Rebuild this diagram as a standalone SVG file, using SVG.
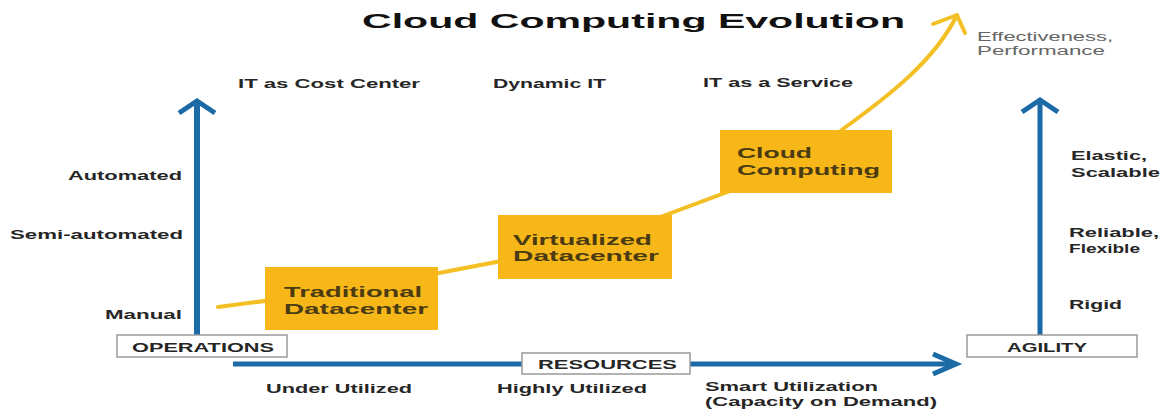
<svg xmlns="http://www.w3.org/2000/svg" width="1161" height="409" viewBox="0 0 1161 409">
<style>
text{font-family:"Liberation Sans",Arial,sans-serif;font-weight:bold;fill:#262626}
.lbl{font-size:13px}
.title{font-size:21px;fill:#111}
.soft{font-weight:normal;fill:#666;font-size:12px}
.box{fill:#fff;stroke:#9a9a9a;stroke-width:1.5}
.step{fill:#f7b718}
.step text{font-size:15px;fill:#4a3b12}
.axis{stroke:#1c6aa6;fill:none;stroke-linecap:butt}
.curve{stroke:#f2c025;fill:none;stroke-width:4;stroke-linecap:round;stroke-linejoin:round}
</style>
<rect width="1161" height="409" fill="#fff"/>
<text class="title" x="362" y="28" textLength="543" lengthAdjust="spacingAndGlyphs">Cloud Computing Evolution</text>

<g id="connectors">
  <path class="axis" stroke-width="6" d="M197,336 V102"/>
  <path class="axis" stroke-width="5" d="M179,113 L197,101 L215,113"/>
  <path class="axis" stroke-width="5" d="M1040,336 V102"/>
  <path class="axis" stroke-width="5" d="M1022,112 L1040,100 L1058,112"/>
  <path class="axis" stroke-width="5" d="M233,364 H954"/>
  <path class="axis" stroke-width="5" d="M933,354 L956,364 L933,374"/>
  <path class="curve" d="M218,307 L350,290 L585,245 L800,165 L843,129 C890,95 935,60 957,15"/>
  <path class="curve" d="M933,24 L957,15 L965,33"/>
</g>

<g id="labels-top">
  <text class="lbl" x="238" y="88" textLength="182" lengthAdjust="spacingAndGlyphs">IT as Cost Center</text>
  <text class="lbl" x="493" y="88" textLength="113" lengthAdjust="spacingAndGlyphs">Dynamic IT</text>
  <text class="lbl" x="703" y="87" textLength="150" lengthAdjust="spacingAndGlyphs">IT as a Service</text>
  <text class="soft" x="977" y="41" textLength="136" lengthAdjust="spacingAndGlyphs">Effectiveness,</text>
  <text class="soft" x="977" y="55" textLength="128" lengthAdjust="spacingAndGlyphs">Performance</text>
</g>

<g id="labels-left">
  <text class="lbl" x="68" y="180" textLength="114" lengthAdjust="spacingAndGlyphs">Automated</text>
  <text class="lbl" x="10" y="239" textLength="173" lengthAdjust="spacingAndGlyphs">Semi-automated</text>
  <text class="lbl" x="105" y="319" textLength="77" lengthAdjust="spacingAndGlyphs">Manual</text>
</g>

<g id="labels-right">
  <text class="lbl" x="1071" y="160" textLength="76" lengthAdjust="spacingAndGlyphs">Elastic,</text>
  <text class="lbl" x="1071" y="177" textLength="89" lengthAdjust="spacingAndGlyphs">Scalable</text>
  <text class="lbl" x="1069" y="237" textLength="90" lengthAdjust="spacingAndGlyphs">Reliable,</text>
  <text class="lbl" x="1069" y="253" textLength="71" lengthAdjust="spacingAndGlyphs">Flexible</text>
  <text class="lbl" x="1069" y="309" textLength="53" lengthAdjust="spacingAndGlyphs">Rigid</text>
</g>

<g id="labels-bottom">
  <text class="lbl" x="266" y="393" textLength="146" lengthAdjust="spacingAndGlyphs">Under Utilized</text>
  <text class="lbl" x="497" y="393" textLength="150" lengthAdjust="spacingAndGlyphs">Highly Utilized</text>
  <text class="lbl" x="705" y="391" textLength="173" lengthAdjust="spacingAndGlyphs">Smart Utilization</text>
  <text class="lbl" x="705" y="406" textLength="232" lengthAdjust="spacingAndGlyphs">(Capacity on Demand)</text>
</g>

<g id="operations">
  <rect class="box" x="117" y="335" width="170" height="22"/>
  <text class="lbl" x="132" y="352" textLength="142" lengthAdjust="spacingAndGlyphs">OPERATIONS</text>
</g>
<g id="resources">
  <rect class="box" x="522" y="353" width="168" height="21"/>
  <text class="lbl" x="538" y="369" textLength="139" lengthAdjust="spacingAndGlyphs">RESOURCES</text>
</g>
<g id="agility">
  <rect class="box" x="967" y="335" width="170" height="22"/>
  <text class="lbl" x="1007" y="352" textLength="80" lengthAdjust="spacingAndGlyphs">AGILITY</text>
</g>

<g id="traditional" class="step">
  <rect x="265" y="267" width="173" height="63"/>
  <text x="284" y="297" textLength="138" lengthAdjust="spacingAndGlyphs">Traditional</text>
  <text x="284" y="314" textLength="144" lengthAdjust="spacingAndGlyphs">Datacenter</text>
</g>
<g id="virtualized" class="step">
  <rect x="498" y="215" width="174" height="64"/>
  <text x="513" y="245" textLength="139" lengthAdjust="spacingAndGlyphs">Virtualized</text>
  <text x="513" y="261" textLength="146" lengthAdjust="spacingAndGlyphs">Datacenter</text>
</g>
<g id="cloud" class="step">
  <rect x="720" y="130" width="172" height="63"/>
  <text x="737" y="158" textLength="75" lengthAdjust="spacingAndGlyphs">Cloud</text>
  <text x="737" y="175" textLength="143" lengthAdjust="spacingAndGlyphs">Computing</text>
</g>
</svg>
